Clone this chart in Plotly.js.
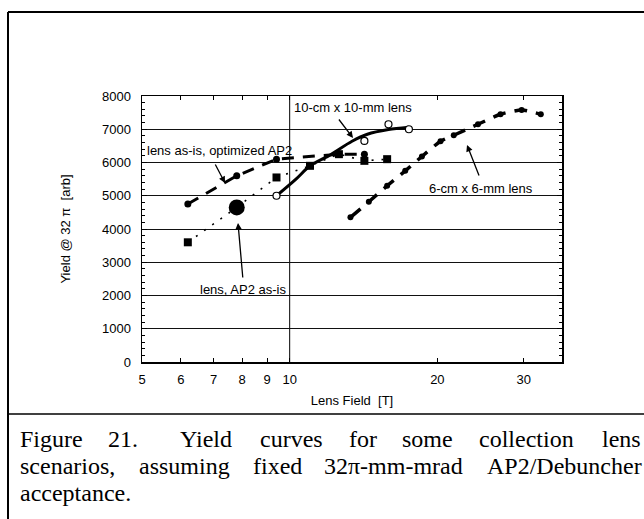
<!DOCTYPE html>
<html>
<head>
<meta charset="utf-8">
<script src="https://cdn.plot.ly/plotly-3.0.1.min.js"></script>
<style>
html,body{margin:0;padding:0;background:#fff;}
#chart{width:644px;height:519px;}
</style>
</head>
<body>
<div id="chart"></div>
<script>
// ---- data ----
// lens as-is, optimized AP2 (dashed, filled circles)
const optX = [6.2, 7.8, 9.4, 12.6, 14.2];
const optY = [4750, 5600, 6100, 6250, 6250];
// lens, AP2 as-is (dotted, squares; big circle = present operating point)
const asIsX = [6.2, 7.8, 9.4, 11.0, 12.6, 14.2, 15.8];
const asIsY = [3600, 4650, 5550, 5900, 6250, 6050, 6100];
// 10-cm x 10-mm lens: fitted curve and computed points (open circles)
const tenCurveX = [9.4, 10.3, 11.0, 12.0, 13.4, 14.4, 15.9, 17.5];
const tenCurveY = [5000, 5500, 5900, 6200, 6640, 6850, 6990, 7060];
const tenPtsX = [9.4, 14.2, 15.9, 17.5];
const tenPtsY = [5000, 6650, 7150, 7000];
// 6-cm x 6-mm lens (dashed, filled dots)
const sixX = [13.3, 14.5, 15.8, 17.2, 18.6, 20.3, 21.6, 24.2, 26.9, 29.7, 32.5];
const sixY = [4350, 4820, 5300, 5750, 6180, 6640, 6820, 7150, 7450, 7580, 7450];
// axis ticks
const xTickVals = [5, 6, 7, 8, 9, 10, 20, 30];
const xTickText = ['5', '6', '7', '8', '9', '10', '20', '30'];
const yTickVals = [0, 1000, 2000, 3000, 4000, 5000, 6000, 7000, 8000];
const xGridVals = [10];

// ---- layout geometry (pixels) ----
const L = 142, R = 562, T = 96, B = 362;
const W = R - L, H = B - T;
const px = x => (x - L) / W;
const py = y => (B - y) / H;

const sans = 'Arial, "Liberation Sans", Helvetica, sans-serif';
const serif = '"Times New Roman", "Liberation Serif", serif';

const traces = [
  { x: optX, y: optY, mode: 'lines+markers', type: 'scatter',
    line: { color: '#000', width: 3, dash: '12px,9px' },
    marker: { color: '#000', size: 7, symbol: 'circle', opacity: 1 }, name: 'lens as-is, optimized AP2' },
  { x: asIsX, y: asIsY, mode: 'lines+markers', type: 'scatter',
    line: { color: '#000', width: 1.6, dash: '2px,8px' },
    marker: { color: '#000', opacity: 1,
      size: asIsX.map((v, i) => i === 1 ? 16 : 8),
      symbol: asIsX.map((v, i) => i === 1 ? 'circle' : 'square'),
      line: { color: '#000', width: 0 } },
    name: 'lens, AP2 as-is' },
  { x: tenCurveX, y: tenCurveY, mode: 'lines', type: 'scatter',
    line: { color: '#000', width: 3, shape: 'spline', smoothing: 0.8 }, name: '10-cm x 10-mm lens' },
  { x: tenPtsX, y: tenPtsY, mode: 'markers', type: 'scatter',
    marker: { color: '#fff', size: 7, symbol: 'circle', opacity: 1, line: { color: '#000', width: 1.2 } },
    name: '10-cm x 10-mm lens points' },
  { x: sixX, y: sixY, mode: 'lines+markers', type: 'scatter',
    line: { color: '#000', width: 3.5, dash: '13px,9px', shape: 'spline', smoothing: 0.6 },
    marker: { color: '#000', size: 6, opacity: 1 }, name: '6-cm x 6-mm lens' }
];

const annFont = { family: sans, size: 13, color: '#000' };
function label(text, left, cy) {
  return { text: text, xref: 'paper', yref: 'paper', x: px(left), y: py(cy),
    xanchor: 'left', yanchor: 'middle', showarrow: false, font: annFont };
}
function arrow(hx, hy, tx, ty) {
  return { text: ' ', xref: 'paper', yref: 'paper', x: px(hx), y: py(hy),
    ax: tx - hx, ay: ty - hy, showarrow: true, arrowhead: 2, arrowsize: 1,
    arrowwidth: 1.3, arrowcolor: '#000', standoff: 0, startstandoff: 0,
    font: { size: 2 } };
}
const capFont = { family: serif, size: 24, color: '#000' };
function cap(text, left, cy) {
  return { text: text, xref: 'paper', yref: 'paper', x: px(left), y: py(cy),
    xanchor: 'left', yanchor: 'middle', showarrow: false, font: capFont };
}

const annotations = [
  label('10-cm x 10-mm lens', 292, 107),
  arrow(353, 138, 337, 117),
  label('lens as-is, optimized AP2', 145, 150),
  arrow(225, 183, 214, 162),
  label('lens, AP2 as-is', 198, 289),
  arrow(238, 223, 243, 280),
  label('6-cm x 6-mm lens', 427, 188),
  arrow(467, 145, 480, 178),
  // caption (justified lines, word by word)
  cap('Figure', 18, 439), cap('21.', 106, 439), cap('Yield', 178, 439),
  cap('curves', 258, 439), cap('for', 347, 439), cap('some', 400, 439),
  cap('collection', 477, 439), cap('lens', 600, 439),
  cap('scenarios,', 18, 466), cap('assuming', 137, 466), cap('fixed', 251, 466),
  cap('32π-mm-mrad', 322, 466), cap('AP2/Debuncher', 485, 466),
  cap('acceptance.', 18, 493)
];

const shapes = [
  // vertical grid line at 10 T
  ...xGridVals.map(v => ({ type: 'line', xref: 'x', yref: 'paper', x0: v, x1: v, y0: 0, y1: 1,
    line: { color: '#000', width: 1 }, layer: 'below' })),
  // page frame
  { type: 'line', xref: 'paper', yref: 'paper', x0: px(8), x1: px(8), y0: py(12), y1: py(525),
    line: { color: '#000', width: 2 } },
  { type: 'line', xref: 'paper', yref: 'paper', x0: px(8), x1: px(650), y0: py(12), y1: py(12),
    line: { color: '#000', width: 2 } },
  { type: 'line', xref: 'paper', yref: 'paper', x0: px(8), x1: px(650), y0: py(414), y1: py(414),
    line: { color: '#000', width: 1.5 } }
];

const layout = {
  width: 644, height: 519,
  margin: { l: L, r: 644 - R, t: T, b: 519 - B, pad: 0 },
  paper_bgcolor: '#fff', plot_bgcolor: '#fff',
  showlegend: false,
  font: { family: sans, size: 13, color: '#000' },
  xaxis: {
    type: 'log', range: [Math.log10(5), Math.log10(35.9)],
    tickvals: xTickVals, ticktext: xTickText,
    ticks: 'inside', ticklen: 4, tickcolor: '#000', tickwidth: 1,
    showgrid: false, zeroline: false,
    showline: true, linecolor: '#000', linewidth: 1.5, mirror: 'ticks',
    ticklabelstandoff: 5,
    tickfont: { family: sans, size: 13 },
    title: { text: 'Lens Field  [T]', font: { family: sans, size: 13 }, standoff: 10 }
  },
  yaxis: {
    range: [0, 8000], tickvals: yTickVals,
    ticks: 'inside', ticklen: 5, tickcolor: '#000', tickwidth: 1,
    minor: { dtick: 200, ticks: 'inside', ticklen: 3, tickcolor: '#000', showgrid: false },
    showgrid: true, gridcolor: '#111', gridwidth: 1,
    zeroline: false,
    showline: true, linecolor: '#000', linewidth: 1.5, mirror: 'ticks',
    ticklabelstandoff: 7,
    tickfont: { family: sans, size: 13 },
    title: { text: 'Yield @ 32 π  [arb]', font: { family: sans, size: 13 }, standoff: 28 }
  },
  annotations: annotations,
  shapes: shapes
};

Plotly.newPlot('chart', traces, layout, { staticPlot: true, displayModeBar: false });
</script>
</body>
</html>
